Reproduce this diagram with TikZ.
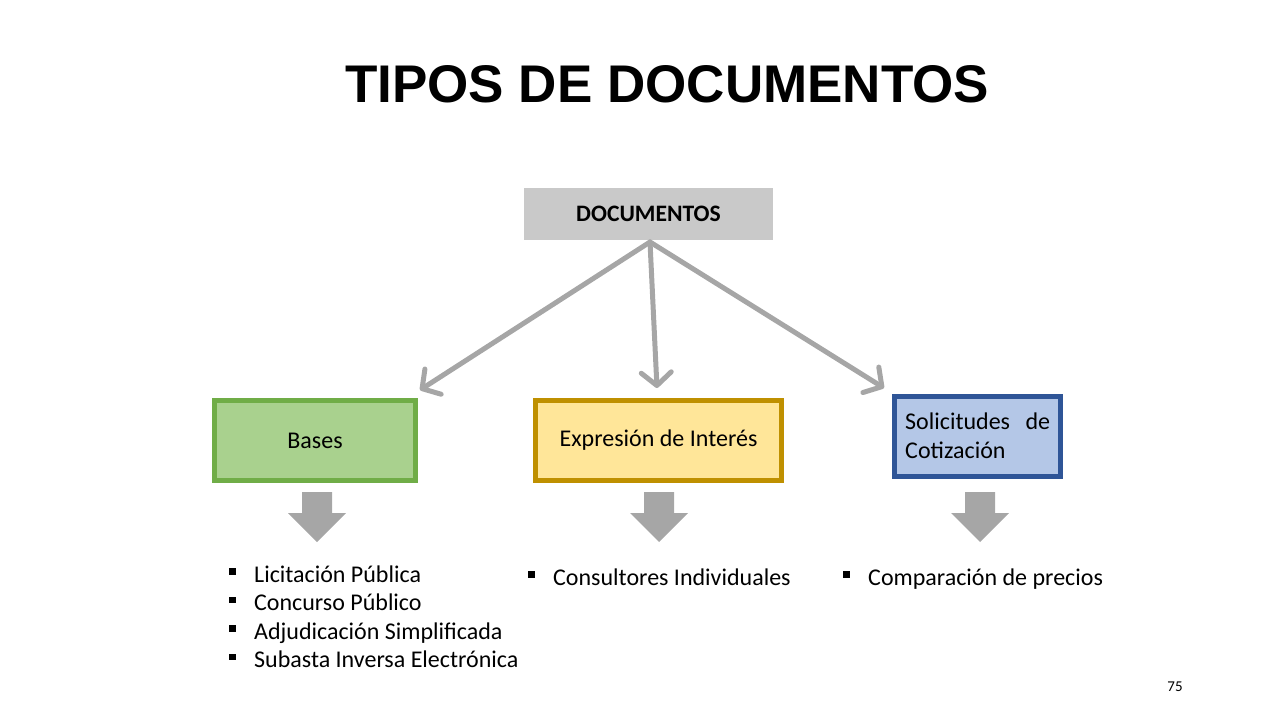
\documentclass[tikz,border=0pt]{standalone}
\usepackage{fontspec}
\setmainfont{Carlito}
\newfontfamily\titlefont{Liberation Sans}
\usetikzlibrary{arrows.meta}
\definecolor{docgray}{HTML}{C9C9C9}
\definecolor{linkgray}{HTML}{A6A6A6}
\definecolor{greenline}{HTML}{70AD47}
\definecolor{greenfill}{HTML}{A9D18E}
\definecolor{goldline}{HTML}{BF9000}
\definecolor{goldfill}{HTML}{FFE699}
\definecolor{blueline}{HTML}{2F5597}
\definecolor{bluefill}{HTML}{B4C7E7}
\newcommand{\sqbullet}{\makebox[25pt][l]{\raisebox{7.5pt}{\rule{6.5pt}{6.5pt}}}}
\tikzset{
  catbox/.style={draw, line width=5pt, minimum height=80pt, inner sep=0pt, font=\fontsize{24}{28}\selectfont},
  link/.style={draw=linkgray, line width=5pt, line cap=round, line join=round, -{Straight Barb[length=13pt,width=30pt,line width=5pt,round]}},
  blockarrow/.style={fill=linkgray},
  listline/.style={anchor=base west, inner sep=0pt, font=\fontsize{24}{28}\selectfont}
}
\begin{document}
\begin{tikzpicture}[x=1pt,y=-1pt]
\useasboundingbox (0,0) rectangle (1280,720);
\node[font=\titlefont\bfseries\fontsize{53}{60}\selectfont, anchor=base west, inner sep=0pt] (title) at (345,102) {TIPOS DE DOCUMENTOS};
\node[fill=docgray, minimum width=249pt, minimum height=52pt, inner sep=0pt, font=\bfseries\fontsize{23.6}{27}\selectfont] (doc) at (648.5,214) {DOCUMENTOS};
\node[catbox, draw=greenline, fill=greenfill, minimum width=201pt] (bases) at (315,440.5) {Bases};
\node[catbox, draw=goldline, fill=goldfill, minimum width=246pt] (expr) at (658.5,440.5) {Expresión de Interés};
\node[catbox, draw=blueline, fill=bluefill, minimum width=166pt] (soli) at (977.5,436) {};
\node[listline] (soliA) at (905,429.5) {\makebox[145pt][s]{Solicitudes\hfill de}};
\node[listline] (soliB) at (905,458.5) {Cotización};
\coordinate (src) at (650,242);
\coordinate (tipA) at (420,390);
\coordinate (tipB) at (657,388);
\coordinate (tipC) at (884,388);
\draw[link] (src) -- (tipA);
\draw[link] (src) -- (tipB);
\draw[link] (src) -- (tipC);
\foreach \cx in {317,659,980}{
  \fill[blockarrow] (\cx-15,492) -- (\cx+15,492) -- (\cx+15,513) -- (\cx+29,513) -- (\cx,542) -- (\cx-29,513) -- (\cx-15,513) -- cycle;
}
\node[listline] (a1) at (229,582) {\sqbullet Licitación Pública};
\node[listline] (a2) at (229,610.5) {\sqbullet Concurso Público};
\node[listline] (a3) at (229,639) {\sqbullet Adjudicación Simplificada};
\node[listline] (a4) at (229,667.5) {\sqbullet Subasta Inversa Electrónica};
\node[listline] (b1) at (528,585) {\sqbullet Consultores Individuales};
\node[listline] (c1) at (843,585) {\sqbullet Comparación de precios};
\node[font=\fontsize{15}{18}\selectfont, inner sep=0pt] (page) at (1175,687) {75};
\end{tikzpicture}
\end{document}
